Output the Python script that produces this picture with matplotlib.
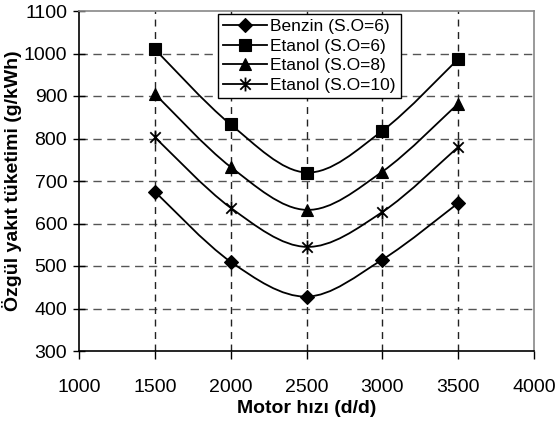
import numpy as np
import matplotlib
matplotlib.use("Agg")
import matplotlib.pyplot as plt
from matplotlib.path import Path
from matplotlib.patches import PathPatch
from matplotlib.lines import Line2D

plt.rcParams['font.family'] = ['Liberation Sans', 'DejaVu Sans']

# data
speeds = [1500, 2000, 2500, 3000, 3500]
benzin_so6 = [675, 510, 428, 515, 648]
etanol_so6 = [1010, 833, 720, 818, 987]
etanol_so8 = [905, 733, 632, 722, 882]
etanol_so10 = [803, 637, 545, 627, 780]
labels = ["Benzin (S.O=6)", "Etanol (S.O=6)", "Etanol (S.O=8)", "Etanol (S.O=10)"]
series = [benzin_so6, etanol_so6, etanol_so8, etanol_so10]
x_ticks = [1000, 1500, 2000, 2500, 3000, 3500, 4000]
y_ticks = [300, 400, 500, 600, 700, 800, 900, 1000, 1100]

# asterisk marker (vertical line + X)
ast = Path([(0, -1), (0, 1), (-0.75, -0.75), (0.75, 0.75), (-0.75, 0.75), (0.75, -0.75)],
           [Path.MOVETO, Path.LINETO, Path.MOVETO, Path.LINETO, Path.MOVETO, Path.LINETO])
markers = ['D', 's', '^', ast]
msizes = [7, 8, 8.5, 10]

fig = plt.figure(figsize=(5.57, 4.25), dpi=100)
ax = fig.add_axes([79/557, 1-351/425, (534-79)/557, (351-11)/425])

def smooth_path(xs, ys):
    pts = list(zip(xs, ys))
    verts = [pts[0]]
    codes = [Path.MOVETO]
    n = len(pts)
    for i in range(n - 1):
        p0 = pts[i - 1] if i > 0 else pts[i]
        p1 = pts[i]
        p2 = pts[i + 1]
        p3 = pts[i + 2] if i + 2 < n else pts[i + 1]
        c1 = (p1[0] + (p2[0] - p0[0]) / 6, p1[1] + (p2[1] - p0[1]) / 6)
        c2 = (p2[0] - (p3[0] - p1[0]) / 6, p2[1] - (p3[1] - p1[1]) / 6)
        verts += [c1, c2, p2]
        codes += [Path.CURVE4] * 3
    return Path(verts, codes)

handles = []
for ys, lab, m, ms in zip(series, labels, markers, msizes):
    patch = PathPatch(smooth_path(speeds, ys), facecolor='none', edgecolor='black', lw=1.3, zorder=3)
    ax.add_patch(patch)
    ax.plot(speeds, ys, linestyle='none', marker=m, markersize=ms, color='black',
            markeredgewidth=1.3 if m is ast else 0.8, zorder=4)
    handles.append(Line2D([], [], color='black', lw=1.3, marker=m, markersize=ms,
                          markeredgewidth=1.3 if m is ast else 0.8))

ax.set_xlim(1000, 4000)
ax.set_ylim(300, 1100)
ax.set_xticks(x_ticks)
ax.set_yticks(y_ticks)

for yv in y_ticks[1:-1]:
    ax.axhline(yv, color='#555555', lw=1.0, linestyle=(0, (6, 4)), zorder=1)
for xv in x_ticks[1:-1]:
    ax.axvline(xv, color='#222222', lw=1.0, linestyle=(0, (5, 4)), zorder=1)

ax.tick_params(axis='x', direction='out', length=6, width=1, pad=14, labelsize=14)
ax.tick_params(axis='y', direction='inout', length=9, width=1, pad=4, labelsize=14)

for s in ['left', 'bottom']:
    ax.spines[s].set_color('black')
    ax.spines[s].set_linewidth(1.2)
for s in ['top', 'right']:
    ax.spines[s].set_color('#888888')
    ax.spines[s].set_linewidth(1.2)

ax.set_xlabel("Motor hızı (d/d)", fontsize=14, fontweight='bold')
ax.xaxis.set_label_coords(0.5, -0.145)
ax.set_ylabel("Özgül yakıt tüketimi (g/kWh)", fontsize=14, fontweight='bold')
ax.yaxis.set_label_coords(-0.125, 0.5)

leg = fig.legend(handles, labels, loc='upper left', bbox_to_anchor=(218/557, 1-14/425),
                 bbox_transform=fig.transFigure, borderaxespad=0, fontsize=12.5,
                 fancybox=False, framealpha=1, edgecolor='black', handlelength=2.5,
                 handletextpad=0.2, labelspacing=0.25, borderpad=0.3)
leg.get_frame().set_linewidth(1.0)

fig.savefig("out.png", dpi=100, facecolor='white')
